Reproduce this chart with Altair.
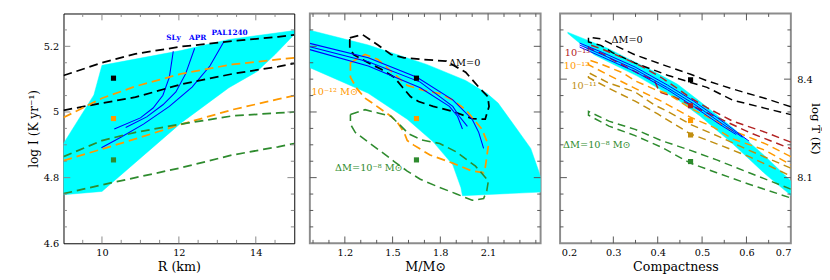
import altair as alt
import pandas as pd

FONT = "DejaVu Serif"
W, H = 237, 236
CYAN = "#00ffff"
BLUE = "#0000ff"
BLACK = "#000000"
ORANGE = "#ff9900"
GREEN = "#2e8b2e"
DARKRED = "#b22222"
GOLD = "#c08e10"
DASH = [9, 5]

# ---------------- Panel 1 : log I vs R ----------------
P1_R = [9.0, 10.0, 10.87, 12.05, 13.39, 14.58, 15.0]
P1_BLACK_HI = [5.111, 5.150, 5.177, 5.199, 5.216, 5.229, 5.235]
P1_BLACK_LO = [5.005, 5.027, 5.045, 5.084, 5.116, 5.138, 5.148]
P1_ORANGE_HI = [4.983, 5.042, 5.078, 5.116, 5.145, 5.160, 5.165]
P1_ORANGE_LO = [4.852, 4.887, 4.918, 4.962, 5.007, 5.039, 5.050]
P1_GREEN_HI = [4.864, 4.913, 4.938, 4.963, 4.988, 4.997, 5.000]
P1_GREEN_LO = [4.751, 4.778, 4.800, 4.830, 4.869, 4.894, 4.904]

P1_BAND_R = [9.0, 10.0, 12.05, 13.3, 14.03, 14.5, 15.0, 15.0, 13.3, 12.05, 10.0, 9.79, 9.0, 9.0]
P1_BAND_I = [4.748, 4.758, 4.966, 5.074, 5.123, 5.175, 5.236, 5.248, 5.221, 5.187, 5.142, 5.052, 4.904, 4.748]

SLY_R = [10.32, 11.0, 11.33, 11.585, 11.753, 11.854]
SLY_I = [4.948, 4.982, 5.012, 5.051, 5.106, 5.185]
APR_R = [10.617, 11.164, 11.585, 11.922, 12.174, 12.41]
APR_I = [4.953, 4.985, 5.022, 5.061, 5.116, 5.194]
PAL_R = [9.986, 10.491, 11.08, 11.753, 12.343, 12.806, 13.168]
PAL_I = [4.891, 4.923, 4.963, 5.017, 5.076, 5.140, 5.214]

P1_SQ_R = [10.3, 10.3, 10.3]
P1_SQ_I = [5.103, 4.980, 4.854]
P1_SQ_C = [BLACK, ORANGE, GREEN]

P1_LAB_T = ["SLy", "APR", "PAL1240"]
P1_LAB_R = [11.86, 12.49, 13.32]
P1_LAB_I = [5.226, 5.226, 5.241]

# ---------------- Panel 2 : log I vs M ----------------
P2_BAND_M = [0.98, 1.347, 1.714, 1.959, 2.092, 2.163, 2.266, 2.368, 2.418, 2.43, 2.43,
             1.939, 1.929, 1.878, 1.755, 1.592, 1.347, 0.98, 0.98]
P2_BAND_I = [5.249, 5.204, 5.145, 5.096, 5.057, 5.027, 4.958, 4.889, 4.820, 4.80, 4.756,
             4.745, 4.770, 4.839, 4.909, 4.978, 5.057, 5.135, 5.249]

P2_BLACK_M = [1.231, 1.310, 1.408, 1.490, 1.572, 1.694, 1.837, 1.959, 2.041, 2.098, 2.106, 2.082,
              2.000, 1.878, 1.755, 1.663, 1.612, 1.561, 1.510, 1.429, 1.327, 1.255, 1.231, 1.231]
P2_BLACK_I = [5.226, 5.236, 5.204, 5.175, 5.165, 5.160, 5.155, 5.121, 5.076, 5.047, 5.017, 4.978,
              4.980, 5.002, 5.017, 5.032, 5.047, 5.076, 5.106, 5.130, 5.155, 5.175, 5.194, 5.226]
P2_ORANGE_M = [1.235, 1.327, 1.408, 1.510, 1.592, 1.694, 1.796, 1.878, 1.959, 2.061, 2.102, 2.082, 2.072,
               2.000, 1.878, 1.735, 1.633, 1.592, 1.572, 1.531, 1.490, 1.388, 1.327, 1.276, 1.235, 1.235]
P2_ORANGE_I = [5.150, 5.175, 5.160, 5.116, 5.081, 5.066, 5.056, 5.037, 5.007, 4.948, 4.899, 4.830, 4.815,
               4.820, 4.844, 4.869, 4.899, 4.913, 4.938, 4.968, 4.987, 5.022, 5.042, 5.071, 5.106, 5.150]
P2_GREEN_M = [1.235, 1.327, 1.408, 1.490, 1.541, 1.602, 1.684, 1.796, 1.898, 2.021, 2.102, 2.092,
              2.072, 2.000, 1.898, 1.796, 1.674, 1.592, 1.510, 1.429, 1.347, 1.265, 1.235, 1.235]
P2_GREEN_I = [4.992, 5.007, 4.997, 4.987, 4.963, 4.933, 4.915, 4.904, 4.879, 4.835, 4.790, 4.761,
              4.736, 4.731, 4.751, 4.770, 4.795, 4.820, 4.849, 4.879, 4.908, 4.938, 4.963, 4.992]

P2_BLUE_A_M = [0.98, 1.347, 1.653, 1.878, 2.000, 2.041, 2.072]
P2_BLUE_A_I = [5.209, 5.165, 5.106, 5.037, 4.978, 4.938, 4.889]
P2_BLUE_B_M = [0.98, 1.347, 1.674, 1.878, 1.919, 1.970]
P2_BLUE_B_I = [5.199, 5.153, 5.091, 5.017, 4.987, 4.956]
P2_BLUE_C_M = [0.98, 1.347, 1.674, 1.857, 1.908, 1.939]
P2_BLUE_C_I = [5.190, 5.140, 5.074, 5.017, 4.987, 4.948]

P2_SQ_M = [1.65, 1.65, 1.65]
P2_SQ_I = [5.103, 4.980, 4.854]

P2_LAB_T = ["ΔM=0", "10⁻¹² M⊙", "ΔM=10⁻⁸ M⊙"]
P2_LAB_M = [1.953, 1.137, 1.351]
P2_LAB_I = [5.150, 5.061, 4.830]
P2_LAB_C = [BLACK, ORANGE, GREEN]

# ---------------- Panel 3 : log T vs compactness ----------------
P3_BAND_C = [0.197, 0.243, 0.287, 0.331, 0.382, 0.444, 0.496, 0.569, 0.643, 0.700,
             0.700, 0.643, 0.569, 0.496, 0.444, 0.404, 0.353, 0.309, 0.257, 0.221, 0.197]
P3_BAND_T = [8.543, 8.518, 8.494, 8.464, 8.430, 8.385, 8.331, 8.252, 8.164, 8.090,
             8.046, 8.110, 8.203, 8.287, 8.339, 8.370, 8.410, 8.439, 8.474, 8.513, 8.540]

P3_BLACK_HI_C = [0.244, 0.272, 0.298, 0.349, 0.422, 0.474, 0.511, 0.569, 0.643, 0.70]
P3_BLACK_HI_T = [8.528, 8.523, 8.506, 8.474, 8.439, 8.415, 8.395, 8.370, 8.341, 8.316]
P3_BLACK_LO_C = [0.244, 0.272, 0.298, 0.349, 0.422, 0.474, 0.511, 0.569, 0.643, 0.70]
P3_BLACK_LO_T = [8.513, 8.503, 8.481, 8.449, 8.412, 8.390, 8.375, 8.336, 8.311, 8.292]

P3_RED_HI_C = [0.244, 0.276, 0.320, 0.364, 0.408, 0.444, 0.474, 0.511, 0.569, 0.643, 0.70]
P3_RED_HI_T = [8.506, 8.491, 8.466, 8.439, 8.405, 8.372, 8.343, 8.313, 8.272, 8.238, 8.208]
P3_RED_LO_C = [0.244, 0.276, 0.312, 0.356, 0.393, 0.404, 0.437, 0.474, 0.533, 0.606, 0.70]
P3_RED_LO_T = [8.495, 8.477, 8.449, 8.418, 8.395, 8.361, 8.346, 8.321, 8.284, 8.238, 8.188]

P3_ORANGE_HI_C = [0.244, 0.276, 0.320, 0.349, 0.393, 0.422, 0.474, 0.525, 0.569, 0.643, 0.70]
P3_ORANGE_HI_T = [8.459, 8.444, 8.420, 8.395, 8.369, 8.356, 8.311, 8.277, 8.243, 8.203, 8.164]
P3_ORANGE_LO_C = [0.244, 0.290, 0.349, 0.408, 0.474, 0.525, 0.569, 0.643, 0.70]
P3_ORANGE_LO_T = [8.444, 8.412, 8.372, 8.333, 8.284, 8.254, 8.218, 8.183, 8.139]

P3_GOLD_HI_C = [0.244, 0.290, 0.349, 0.393, 0.422, 0.474, 0.533, 0.606, 0.70]
P3_GOLD_HI_T = [8.420, 8.388, 8.361, 8.321, 8.302, 8.262, 8.228, 8.183, 8.129]
P3_GOLD_LO_C = [0.244, 0.290, 0.349, 0.400, 0.474, 0.533, 0.606, 0.70]
P3_GOLD_LO_T = [8.405, 8.372, 8.333, 8.294, 8.233, 8.203, 8.164, 8.105]

P3_GREEN_HI_C = [0.244, 0.290, 0.349, 0.408, 0.474, 0.533, 0.606, 0.70]
P3_GREEN_HI_T = [8.302, 8.272, 8.247, 8.213, 8.183, 8.154, 8.115, 8.065]
P3_GREEN_LO_C = [0.244, 0.290, 0.349, 0.408, 0.474, 0.533, 0.606, 0.70]
P3_GREEN_LO_T = [8.290, 8.257, 8.228, 8.193, 8.144, 8.115, 8.080, 8.038]

P3_BLUE1_C = [0.224, 0.276, 0.349, 0.422, 0.481, 0.540, 0.606]
P3_BLUE1_T = [8.510, 8.481, 8.437, 8.382, 8.333, 8.277, 8.211]
P3_BLUE2_C = [0.224, 0.276, 0.349, 0.422, 0.481, 0.540, 0.591]
P3_BLUE2_T = [8.504, 8.474, 8.430, 8.374, 8.325, 8.269, 8.223]
P3_BLUE3_C = [0.224, 0.276, 0.349, 0.422, 0.481, 0.540, 0.577]
P3_BLUE3_T = [8.498, 8.467, 8.423, 8.368, 8.317, 8.262, 8.231]

P3_SQ_C = [0.474, 0.474, 0.474, 0.474, 0.474]
P3_SQ_T = [8.398, 8.319, 8.274, 8.230, 8.149]
P3_SQ_COL = [BLACK, DARKRED, ORANGE, GOLD, GREEN]

P3_LAB_T = ["ΔM=0", "10⁻¹³", "10⁻¹²", "10⁻¹¹", "ΔM=10⁻⁸ M⊙"]
P3_LAB_C = [0.331, 0.219, 0.217, 0.234, 0.263]
P3_LAB_Y = [8.518, 8.479, 8.439, 8.378, 8.198]
P3_LAB_COL = [BLACK, DARKRED, ORANGE, GOLD, GREEN]

# tick values
P1_XMAJ = [10, 12, 14]
P1_XMIN = [9.5, 10.5, 11, 11.5, 12.5, 13, 13.5, 14.5]
LI_YMAJ = [4.8, 5.0, 5.2]
LI_YMIN = [4.65, 4.7, 4.75, 4.85, 4.9, 4.95, 5.05, 5.1, 5.15, 5.25]
P2_XMAJ = [1.2, 1.5, 1.8, 2.1]
P2_XMIN = [1.0, 1.1, 1.3, 1.4, 1.6, 1.7, 1.9, 2.0, 2.2, 2.3, 2.4]
P3_XMAJ = [0.2, 0.3, 0.4, 0.5, 0.6]
P3_XMIN = [0.25, 0.35, 0.45, 0.55, 0.65]
P3_YMAJ = [8.1, 8.4]
P3_YMIN = [7.95, 8.0, 8.05, 8.15, 8.2, 8.25, 8.3, 8.35, 8.45, 8.5, 8.55]


def axis(**kw):
    base = dict(ticks=False, tickSize=0, domain=False, grid=False, format="~g",
                labelFont=FONT, labelFontSize=10, labelColor="black",
                titleFont=FONT, titleFontSize=13, titleFontWeight="normal", titleColor="black")
    base.update(kw)
    return alt.Axis(**base)


class Panel:
    def __init__(self, xdom, ydom, xax, yax, tick_color):
        self.xs = alt.Scale(domain=xdom, nice=False, zero=False)
        self.ys = alt.Scale(domain=ydom, nice=False, zero=False)
        self.xax, self.yax = xax, yax
        self.tc = tick_color
        self.layers = []

    def X(self, f):
        return alt.X(f, type="quantitative", scale=self.xs, axis=self.xax)

    def Y(self, f):
        return alt.Y(f, type="quantitative", scale=self.ys, axis=self.yax)

    def line(self, xs, ys, color, dash=None, width=1.4, fill=None):
        df = pd.DataFrame({"x": xs, "y": ys, "i": list(range(len(xs)))})
        kw = dict(stroke=color, strokeWidth=width, clip=True)
        if dash:
            kw["strokeDash"] = dash
        if fill:
            kw["fill"] = fill
        self.layers.append(alt.Chart(df).mark_line(**kw).encode(
            x=self.X("x"), y=self.Y("y"), order=alt.Order("i:Q")))

    def squares(self, xs, ys, cols):
        df = pd.DataFrame({"x": xs, "y": ys, "c": cols})
        self.layers.append(alt.Chart(df).mark_square(size=28, opacity=1, filled=True).encode(
            x=self.X("x"), y=self.Y("y"), color=alt.Color("c:N", scale=None)))

    def texts(self, ts, xs, ys, cols, size=10, weight="normal"):
        df = pd.DataFrame({"t": ts, "x": xs, "y": ys, "c": cols})
        self.layers.append(alt.Chart(df).mark_text(font=FONT, fontSize=size, fontWeight=weight,
                                                   align="center", baseline="middle").encode(
            x=self.X("x"), y=self.Y("y"), text="t:N", color=alt.Color("c:N", scale=None)))

    def ticks(self, xmaj, xmin, ymaj, ymin):
        for vals, L in ((xmaj, 7), (xmin, 3.5)):
            df = pd.DataFrame({"v": vals})
            m = alt.Chart(df).mark_rule(color=self.tc, strokeWidth=1)
            self.layers.append(m.encode(x=self.X("v"), y=alt.value(H), y2=alt.value(H - L)))
            self.layers.append(m.encode(x=self.X("v"), y=alt.value(0), y2=alt.value(L)))
        for vals, L in ((ymaj, 7), (ymin, 3.5)):
            df = pd.DataFrame({"v": vals})
            m = alt.Chart(df).mark_rule(color=self.tc, strokeWidth=1)
            self.layers.append(m.encode(y=self.Y("v"), x=alt.value(0), x2=alt.value(L)))
            self.layers.append(m.encode(y=self.Y("v"), x=alt.value(W), x2=alt.value(W - L)))

    def chart(self, stroke, sw):
        return alt.layer(*self.layers).properties(
            width=W, height=H, view=alt.ViewBackground(stroke=stroke, strokeWidth=sw))


def pair(xs_hi, ys_hi, xs_lo, ys_lo):
    return list(reversed(xs_hi)) + list(xs_lo), list(reversed(ys_hi)) + list(ys_lo)


# ---- panel 1
p1 = Panel([9, 15], [4.6, 5.3],
           axis(values=P1_XMAJ, title="R (km)", labelPadding=5, titlePadding=3),
           axis(values=[4.6] + LI_YMAJ, title="log I (K yr⁻¹)", labelPadding=5, titlePadding=3,
                titleFontSize=12.5), "#888888")
p1.line(P1_BAND_R, P1_BAND_I, CYAN, width=0.5, fill=CYAN)
p1.line(SLY_R, SLY_I, BLUE, width=1.1)
p1.line(APR_R, APR_I, BLUE, width=1.1)
p1.line(PAL_R, PAL_I, BLUE, width=1.1)
for ys, c in ((P1_BLACK_HI, BLACK), (P1_BLACK_LO, BLACK), (P1_ORANGE_HI, ORANGE),
              (P1_ORANGE_LO, ORANGE), (P1_GREEN_HI, GREEN), (P1_GREEN_LO, GREEN)):
    p1.line(P1_R, ys, c, dash=DASH, width=1.8)
p1.squares(P1_SQ_R, P1_SQ_I, P1_SQ_C)
p1.texts(P1_LAB_T, P1_LAB_R, P1_LAB_I, [BLUE] * 3, size=7.5, weight="bold")
p1.ticks(P1_XMAJ, P1_XMIN, LI_YMAJ, LI_YMIN)

# ---- panel 2
p2 = Panel([0.98, 2.43], [4.6, 5.3],
           axis(values=P2_XMAJ, title="M/M⊙", labelPadding=5, titlePadding=3),
           None, "#555555")
p2.line(P2_BAND_M, P2_BAND_I, CYAN, width=0.5, fill=CYAN)
p2.line(P2_BLACK_M, P2_BLACK_I, BLACK, dash=DASH, width=1.8)
p2.line(P2_ORANGE_M, P2_ORANGE_I, ORANGE, dash=DASH, width=1.8)
p2.line(P2_GREEN_M, P2_GREEN_I, GREEN, dash=DASH, width=1.6)
p2.line(P2_BLUE_A_M, P2_BLUE_A_I, BLUE, width=1.1)
p2.line(P2_BLUE_B_M, P2_BLUE_B_I, BLUE, width=1.1)
p2.line(P2_BLUE_C_M, P2_BLUE_C_I, BLUE, width=1.1)
p2.squares(P2_SQ_M, P2_SQ_I, P1_SQ_C)
p2.texts(P2_LAB_T, P2_LAB_M, P2_LAB_I, P2_LAB_C, size=10)
p2.ticks(P2_XMAJ, P2_XMIN, LI_YMAJ, LI_YMIN)

# ---- panel 3
p3 = Panel([0.18, 0.7], [7.9, 8.6],
           axis(values=P3_XMAJ + [0.7], title="Compactness", labelPadding=5, titlePadding=3),
           axis(values=P3_YMAJ, orient="right", title="log T̃ (K)", labelPadding=6, titlePadding=-4,
                titleFontSize=12), "#555555")
p3.line(P3_BAND_C, P3_BAND_T, CYAN, width=0.5, fill=CYAN)
for hx, hy, lx, ly, c in ((P3_BLACK_HI_C, P3_BLACK_HI_T, P3_BLACK_LO_C, P3_BLACK_LO_T, BLACK),
                          (P3_RED_HI_C, P3_RED_HI_T, P3_RED_LO_C, P3_RED_LO_T, DARKRED),
                          (P3_ORANGE_HI_C, P3_ORANGE_HI_T, P3_ORANGE_LO_C, P3_ORANGE_LO_T, ORANGE),
                          (P3_GOLD_HI_C, P3_GOLD_HI_T, P3_GOLD_LO_C, P3_GOLD_LO_T, GOLD),
                          (P3_GREEN_HI_C, P3_GREEN_HI_T, P3_GREEN_LO_C, P3_GREEN_LO_T, GREEN)):
    xs, ys = pair(hx, hy, lx, ly)
    p3.line(xs, ys, c, dash=[8, 5], width=1.5)
p3.line(P3_BLUE1_C, P3_BLUE1_T, BLUE, width=1.0)
p3.line(P3_BLUE2_C, P3_BLUE2_T, BLUE, width=1.0)
p3.line(P3_BLUE3_C, P3_BLUE3_T, BLUE, width=1.0)
p3.squares(P3_SQ_C, P3_SQ_T, P3_SQ_COL)
p3.texts(P3_LAB_T, P3_LAB_C, P3_LAB_Y, P3_LAB_COL, size=10)
p3.ticks(P3_XMAJ[1:], P3_XMIN, P3_YMAJ, P3_YMIN)

left = alt.hconcat(p1.chart("black", 1), p2.chart("#8c8c8c", 2), spacing=13)
chart = alt.hconcat(left, p3.chart("#8c8c8c", 2), spacing=16).properties(
    padding={"left": 19, "top": 0, "right": 0, "bottom": 0}
).configure_view(strokeWidth=1)

chart.save("out.html", embed_options={"renderer": "svg", "actions": False})
